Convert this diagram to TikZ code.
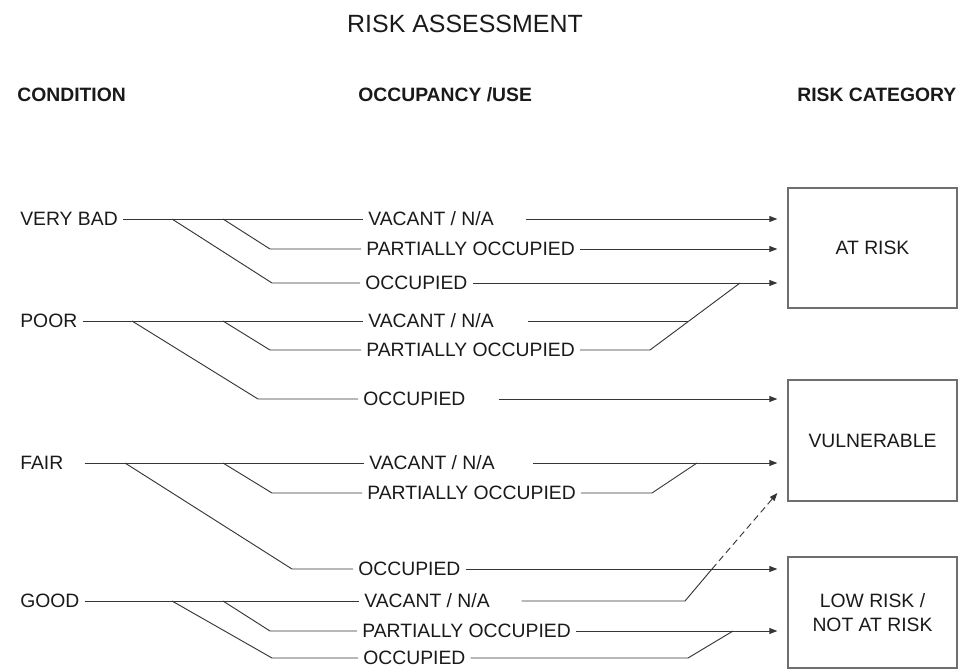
\documentclass[tikz,border=0pt]{standalone}
\usepackage{fontspec}
\setmainfont{Liberation Sans}
\usepackage{xcolor}
\definecolor{wirecol}{HTML}{363636}
\definecolor{framecol}{HTML}{6E6E6E}
\definecolor{inkcol}{HTML}{1A1A1A}
\usetikzlibrary{positioning,arrows.meta}
\tikzset{
  lbl/.style={inner sep=0pt, outer sep=4pt, text height=10.4pt, text depth=0pt, anchor=west, text=inkcol, font=\fontsize{14.5}{17}\selectfont},
  head/.style={lbl, font=\fontsize{14.5}{17}\selectfont\bfseries},
  catbox/.style={draw=framecol, line width=0.8pt, outer sep=8pt, align=center, text=inkcol, minimum width=126.75pt, font=\fontsize{14.5}{18}\selectfont},
  wire/.style={draw=wirecol, line width=0.7pt},
  arr/.style={wire, -{Triangle[length=6pt,width=4.5pt]}},
}
\begin{document}
\begin{tikzpicture}[x=0.75pt, y=-0.75pt]
  \useasboundingbox (0,0) rectangle (958,671);
  % title and column heads
  \node[lbl, anchor=center, text height=13.4pt, font=\fontsize{18.7}{22}\selectfont] (title) at (465,24) {RISK ASSESSMENT};
  \node[head] (hcond) at (12,95) {CONDITION};
  \node[head] (huse) at (353,95) {OCCUPANCY /USE};
  \node[head] (hcat) at (792,95) {RISK CATEGORY};
  % conditions
  \node[lbl] (vb) at (15,219) {VERY BAD};
  \node[lbl] (poor) at (15,321) {POOR};
  \node[lbl] (fair) at (15,463) {FAIR};
  \node[lbl] (good) at (15,601) {GOOD};
  % occupancy
  \node[lbl] (vbv) at (363,219) {VACANT / N/A};
  \node[lbl] (vbp) at (361,249) {PARTIALLY OCCUPIED};
  \node[lbl] (vbo) at (360,283) {OCCUPIED};
  \node[lbl] (pv) at (363,321) {VACANT / N/A};
  \node[lbl] (pp) at (361,350) {PARTIALLY OCCUPIED};
  \node[lbl] (po) at (358,399) {OCCUPIED};
  \node[lbl] (fv) at (364,463) {VACANT / N/A};
  \node[lbl] (fp) at (362,493) {PARTIALLY OCCUPIED};
  \node[lbl] (fo) at (353,569) {OCCUPIED};
  \node[lbl] (gv) at (359,601) {VACANT / N/A};
  \node[lbl] (gp) at (357,631) {PARTIALLY OCCUPIED};
  \node[lbl] (go) at (358,658) {OCCUPIED};
  % risk categories
  \node[catbox, minimum height=90pt] (atrisk) at (872.5,248) {AT RISK};
  \node[catbox, minimum height=90.75pt] (vul) at (872.5,440.5) {VULNERABLE};
  \node[catbox, minimum height=83.25pt] (low) at (872.5,612.5) {LOW RISK /\\NOT AT RISK};

  % condition -> occupancy
  \draw[wire] (vb.east) -- (vbv.west);
  \draw[wire] (223,219) -- (270,249) -- (vbp.west);
  \draw[wire] (172,219) -- (272,283) -- (vbo.west);
  \draw[wire] (poor.east) -- (pv.west);
  \draw[wire] (223,321) -- (270,350) -- (pp.west);
  \draw[wire] (132,321) -- (258,399) -- (po.west);
  \draw[wire] ([xshift=12pt]fair.east) -- (fv.west);
  \draw[wire] (223,463) -- (272,493) -- (fp.west);
  \draw[wire] (125,463) -- (292,569) -- (fo.west);
  \draw[wire] (good.east) -- (gv.west);
  \draw[wire] (223,601) -- (270,631) -- (gp.west);
  \draw[wire] (172,601) -- (272,658) -- (go.west);

  % occupancy -> risk category
  \draw[arr] ([xshift=20pt]vbv.east) -- (atrisk.west |- vbv.east);
  \draw[arr] (vbp.east) -- (atrisk.west |- vbp.east);
  \draw[arr] (vbo.east) -- (atrisk.west |- vbo.east);
  \draw[wire] ([xshift=22pt]pv.east) -- (688,321);
  \draw[wire] (pp.east) -- (650,350) -- (740,283);
  \draw[arr] ([xshift=21pt]po.east) -- (vul.west |- po.east);
  \draw[arr] ([xshift=25pt]fv.east) -- (vul.west |- fv.east);
  \draw[wire] (fp.east) -- (652,493) -- (697,463);
  \draw[arr] (fo.east) -- (low.west |- fo.east);
  \draw[wire] ([xshift=20pt]gv.east) -- (685,601) -- (712,569);
  \draw[arr, dash pattern=on 5pt off 3pt] (712,569) -- (vul.west |- fp.east);
  \draw[arr] (gp.east) -- (low.west |- gp.east);
  \draw[wire] (go.east) -- (688,658) -- (733,631);
\end{tikzpicture}
\end{document}
